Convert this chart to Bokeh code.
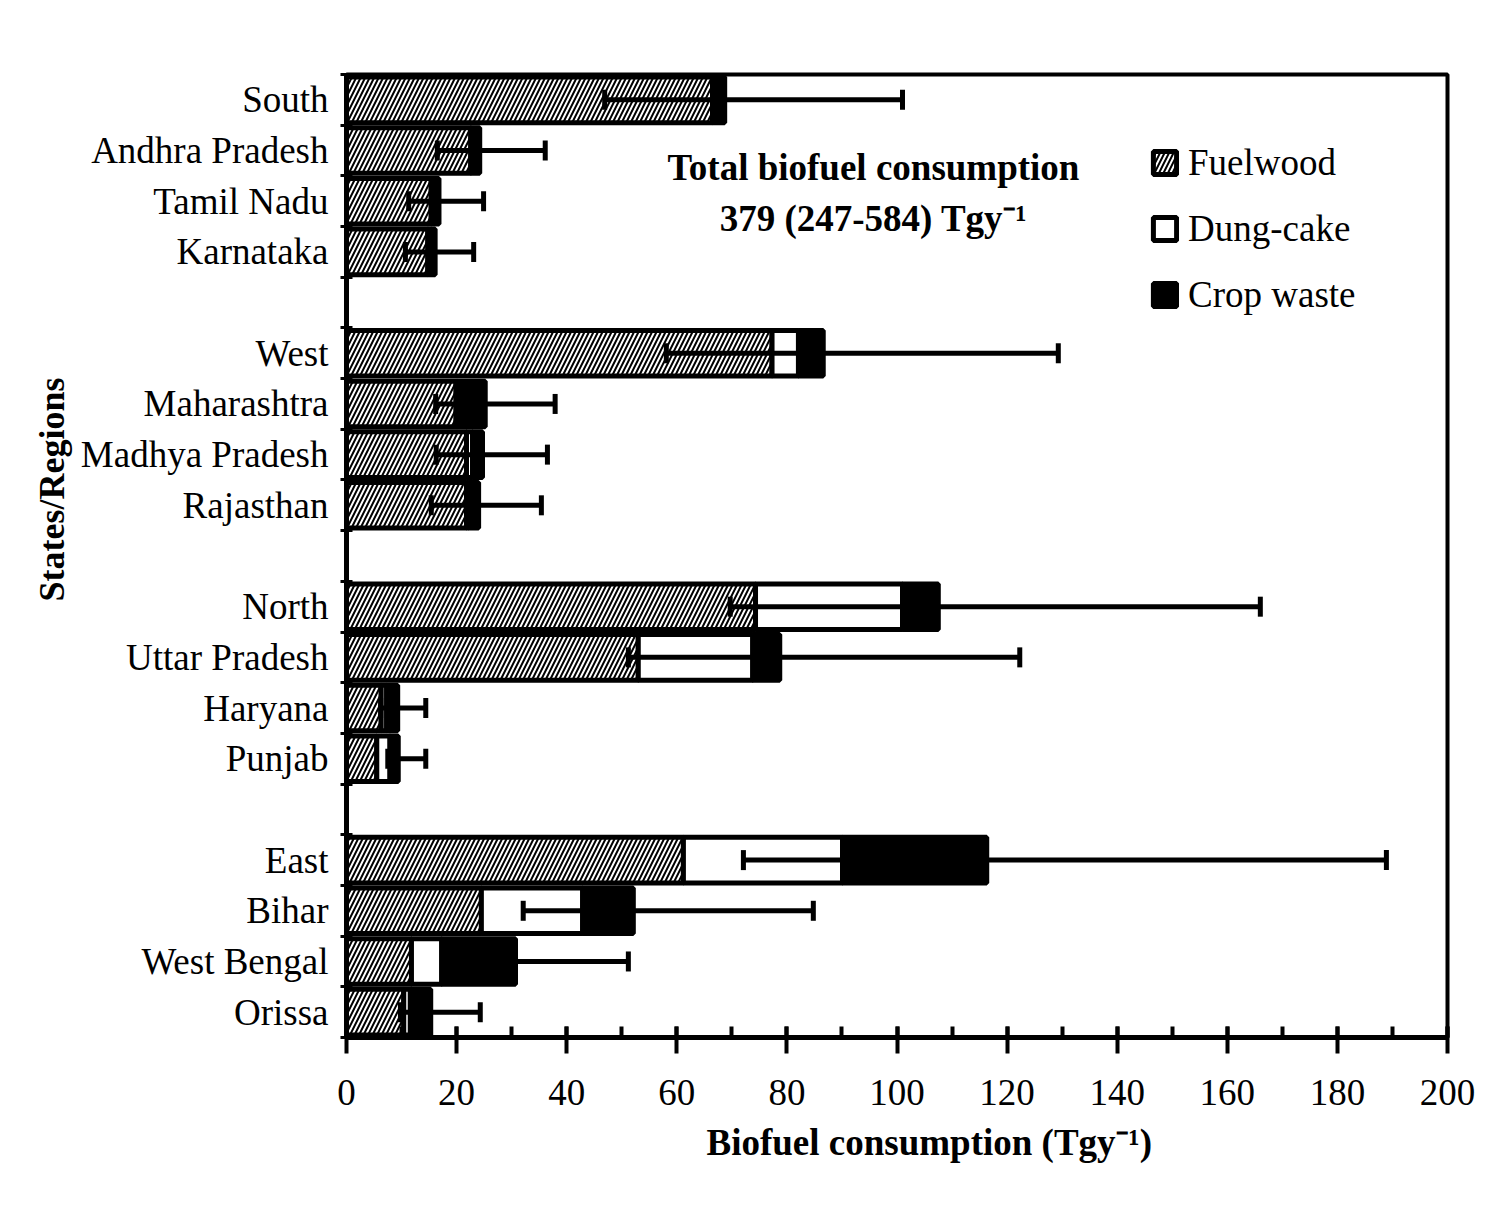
from bokeh.plotting import figure
from bokeh.models import (ColumnDataSource, Whisker, TeeHead, Legend, LegendItem, Label,
                          FixedTicker, Range1d, Title)
from bokeh.embed import file_html
from bokeh.resources import INLINE

# ---------------- data ----------------
states = ["South", "Andhra Pradesh", "Tamil Nadu", "Karnataka",
          "West", "Maharashtra", "Madhya Pradesh", "Rajasthan",
          "North", "Uttar Pradesh", "Haryana", "Punjab",
          "East", "Bihar", "West Bengal", "Orissa"]
fuelwood = [66.5, 22.6, 15.4, 14.8,
            77.3, 19.9, 21.8, 21.8,
            74.3, 53.0, 6.3, 5.5,
            61.2, 24.5, 11.8, 10.4]
dungcake = [0.0, 0.0, 0.0, 0.0,
            4.8, 0.3, 1.1, 0.4,
            26.7, 20.8, 1.0, 2.4,
            28.9, 18.4, 5.5, 1.2]
cropwaste = [2.2, 1.6, 1.4, 1.3,
             4.5, 5.0, 1.8, 1.8,
             6.5, 4.9, 2.0, 1.5,
             26.2, 9.2, 13.4, 3.7]
err_low = [46.9, 16.5, 11.3, 10.7,
           58.1, 16.2, 16.3, 15.4,
           69.7, 51.2, 6.2, 7.5,
           72.1, 32.1, 20.0, 9.8]
err_high = [101.0, 36.1, 24.9, 23.1,
            129.3, 37.9, 36.5, 35.4,
            166.0, 122.3, 14.4, 14.4,
            188.9, 84.8, 51.2, 24.3]
group_size = 4
x_ticks = list(range(0, 201, 20))
x_minor = list(range(0, 201, 10))
total_text = ["Total biofuel consumption", "379 (247-584) Tgy\u207b\u00b9"]
legend_labels = ["Fuelwood", "Dung-cake", "Crop waste"]
x_title = "Biofuel consumption (Tgy\u207b\u00b9)"
y_title = "States/Regions"

# ---------------- layout helpers ----------------
n = len(states)
n_groups = n // group_size
n_slots = n + n_groups - 1
slots = [i + i // group_size for i in range(n)]
ys = [n_slots - k - 0.5 for k in slots]

fw_l = [0.0] * n
fw_r = fuelwood
dc_l = fw_r
dc_r = [a + b for a, b in zip(fw_r, dungcake)]
cw_l = dc_r
cw_r = [a + b for a, b in zip(dc_r, cropwaste)]

src = ColumnDataSource(dict(y=ys, fw_l=fw_l, fw_r=fw_r, dc_l=dc_l, dc_r=dc_r,
                            cw_l=cw_l, cw_r=cw_r, lo=err_low, hi=err_high))

FONT = "Liberation Serif"

p = figure(output_backend="svg", toolbar_location=None,
           frame_width=1101, frame_height=963,
           min_border_left=346, min_border_right=31,
           min_border_top=74, min_border_bottom=186,
           x_range=Range1d(0, 200), y_range=Range1d(0, n_slots))
p.border_fill_color = "white"
p.background_fill_color = "white"
p.outline_line_color = "black"
p.outline_line_width = 4
p.xgrid.visible = False
p.ygrid.visible = False

bar_h = 0.9
r_fw = p.hbar(y="y", left="fw_l", right="fw_r", height=bar_h, source=src,
              fill_color="white", hatch_pattern="/", hatch_color="black",
              hatch_scale=9, hatch_weight=2,
              line_color="black", line_width=5)
r_dc = p.hbar(y="y", left="dc_l", right="dc_r", height=bar_h, source=src,
              fill_color="white", line_color="black", line_width=5)
r_cw = p.hbar(y="y", left="cw_l", right="cw_r", height=bar_h, source=src,
              fill_color="black", line_color="black", line_width=5)

wh = Whisker(source=src, base="y", lower="lo", upper="hi", dimension="width",
             line_color="black", line_width=5, level="overlay",
             upper_head=TeeHead(size=20, line_width=5, line_color="black"),
             lower_head=TeeHead(size=20, line_width=5, line_color="black"))
p.add_layout(wh)

# axes
xa = p.xaxis[0]
xa.ticker = FixedTicker(ticks=x_ticks, minor_ticks=x_minor)
xa.axis_line_width = 5
xa.major_tick_line_width = 4
xa.minor_tick_line_width = 4
xa.major_tick_in = 11
xa.major_tick_out = 16
xa.minor_tick_in = 11
xa.minor_tick_out = 0
xa.major_label_standoff = 26
xa.major_label_text_font = FONT
xa.major_label_text_font_size = "37px"
xa.major_label_text_color = "black"

ya = p.yaxis[0]
ya.ticker = FixedTicker(ticks=ys, minor_ticks=list(range(0, n_slots + 1)))
ya.major_label_overrides = {y: s for y, s in zip(ys, states)}
ya.axis_line_width = 5
ya.major_tick_in = 0
ya.major_tick_out = 0
ya.minor_tick_in = 6
ya.minor_tick_out = 6
ya.minor_tick_line_width = 3
ya.major_label_standoff = 12
ya.major_label_text_font = FONT
ya.major_label_text_font_size = "37px"
ya.major_label_text_color = "black"

# axis titles (as side titles so they can be offset like the reference)
p.add_layout(Title(text=y_title, align="left", offset=436, standoff=12,
                   text_font=FONT, text_font_size="36px", text_font_style="bold",
                   text_color="black"), "left")
p.add_layout(Title(text=x_title, align="left", offset=360, standoff=24,
                   text_font=FONT, text_font_size="37px", text_font_style="bold",
                   text_color="black"), "below")

# total annotation
for t, yy in zip(total_text, [870, 819]):
    p.add_layout(Label(x=527, y=yy, x_units="screen", y_units="screen",
                       text=t, text_align="center", text_baseline="middle",
                       text_font=FONT, text_font_size="37px",
                       text_font_style="bold", text_color="black"))

legend = Legend(items=[LegendItem(label=legend_labels[0], renderers=[r_fw]),
                       LegendItem(label=legend_labels[1], renderers=[r_dc]),
                       LegendItem(label=legend_labels[2], renderers=[r_cw])],
                location=(804, 721), padding=0, margin=0, spacing=23,
                glyph_width=29, glyph_height=29, label_height=29,
                label_standoff=9, label_text_font=FONT,
                label_text_font_size="37px", label_text_color="black",
                background_fill_alpha=0, border_line_alpha=0)
p.add_layout(legend)

open("out.html", "w").write(file_html(p, INLINE))
